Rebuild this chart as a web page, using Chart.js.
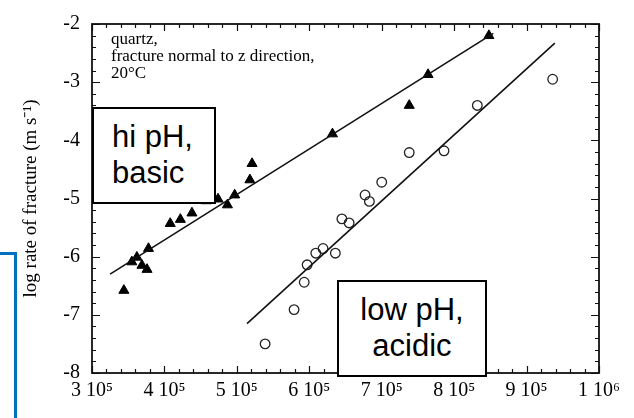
<!DOCTYPE html>
<html>
<head>
<meta charset="utf-8">
<script src="https://cdn.jsdelivr.net/npm/chart.js@4/dist/chart.umd.min.js"></script>
<style>
  html, body { margin: 0; padding: 0; background: #fff; overflow: hidden; }
  #wrap { position: relative; width: 634px; height: 418px; }
  canvas { position: absolute; left: 0; top: 0; }
  .note {
    position: absolute; left: 111px; top: 30px;
    font: 17px "Liberation Serif", "Times New Roman", serif; line-height: 17px; color: #000;
  }
  .box {
    position: absolute; box-sizing: border-box; background: #fff;
    border: 2px solid #000; font: 31px "Liberation Sans", Arial, sans-serif;
    line-height: 36px; color: #000; padding-top: 10px;
  }
  .bracket {
    position: absolute; box-sizing: border-box; left: 0; top: 252px; width: 17px; height: 200px;
    border-top: 3px solid #0070c0; border-right: 3px solid #0070c0;
  }
</style>
</head>
<body>
<div id="wrap">
  <canvas id="chart" width="634" height="418"></canvas>
  <div class="note">quartz,<br>fracture normal to z direction,<br>20°C</div>
  <div class="box" style="left:92px; top:107px; width:124px; height:97px; padding-left:18px;">hi pH,<br>basic</div>
  <div class="box" style="left:337px; top:280px; width:150px; height:97px; text-align:center;">low pH,<br>acidic</div>
  <div class="bracket"></div>
</div>
<script>
// high pH (basic) measurements - filled triangles
const basicX = [344000, 355000, 362000, 369000, 376000, 378000, 408000, 422000, 438000, 458000,
  474000, 487000, 497000, 518000, 521000, 632000, 738000, 764000, 848000];
const basicY = [-6.58, -6.09, -6.01, -6.15, -6.22, -5.86, -5.43, -5.36, -5.25, -5.04,
  -5.01, -5.11, -4.94, -4.68, -4.40, -3.89, -3.40, -2.87, -2.20];

// low pH (acidic) measurements - open circles
const acidicX = [539000, 579000, 593000, 597000, 609000, 619000, 636000, 645000, 655000, 677000,
  683000, 700000, 738000, 786000, 832000, 936000];
const acidicY = [-7.50, -6.91, -6.44, -6.14, -5.94, -5.86, -5.94, -5.35, -5.42, -4.94,
  -5.05, -4.72, -4.21, -4.18, -3.40, -2.95];

// fitted lines
const basicFitX = [325000, 854000];
const basicFitY = [-6.30, -2.16];
const acidicFitX = [514000, 939000];
const acidicFitY = [-7.15, -2.33];

const xTickLabels = ["3 10⁵", "4 10⁵", "5 10⁵", "6 10⁵", "7 10⁵", "8 10⁵", "9 10⁵", "1 10⁶"];
const yTickLabels = ["-8", "-7", "-6", "-5", "-4", "-3", "-2"];

const toPoints = (xs, ys) => xs.map((x, i) => ({ x, y: ys[i] }));
const serif = '"Liberation Serif", "Times New Roman", serif';

// inward ticks on all four sides plus the frame
const frameTicks = {
  id: "frameTicks",
  afterDatasetsDraw(chart) {
    const { ctx, chartArea: a, scales: { x, y } } = chart;
    ctx.save();
    ctx.strokeStyle = "#111";
    ctx.lineWidth = 1.2;
    ctx.beginPath();
    for (let v = 300000; v <= 1000000; v += 20000) {
      const px = Math.round(x.getPixelForValue(v)) + 0.5;
      const len = v % 100000 === 0 ? 7 : 4;
      ctx.moveTo(px, a.bottom); ctx.lineTo(px, a.bottom - len);
      ctx.moveTo(px, a.top); ctx.lineTo(px, a.top + len);
    }
    for (let k = 0; k <= 30; k++) {
      const v = -8 + k * 0.2;
      const py = Math.round(y.getPixelForValue(v)) + 0.5;
      const len = k % 5 === 0 ? 8 : 4;
      ctx.moveTo(a.left, py); ctx.lineTo(a.left + len, py);
      ctx.moveTo(a.right, py); ctx.lineTo(a.right - len, py);
    }
    ctx.stroke();
    ctx.lineWidth = 1.8;
    ctx.strokeRect(a.left, a.top, a.right - a.left, a.bottom - a.top);
    ctx.restore();
  }
};

new Chart(document.getElementById("chart"), {
  type: "scatter",
  data: {
    datasets: [
      {
        data: toPoints(basicFitX, basicFitY), showLine: true, pointRadius: 0,
        borderColor: "#111", borderWidth: 1.6
      },
      {
        data: toPoints(acidicFitX, acidicFitY), showLine: true, pointRadius: 0,
        borderColor: "#111", borderWidth: 1.6
      },
      {
        data: toPoints(basicX, basicY), pointStyle: "triangle", pointRadius: 5.8,
        backgroundColor: "#000", borderColor: "#000", borderWidth: 1
      },
      {
        data: toPoints(acidicX, acidicY), pointStyle: "circle", pointRadius: 4.8,
        backgroundColor: "rgba(0,0,0,0)", borderColor: "#222", borderWidth: 1.3
      }
    ]
  },
  options: {
    responsive: false,
    animation: false,
    events: [],
    layout: { padding: { top: 12, right: 35, left: 0, bottom: 0 } },
    plugins: { legend: { display: false }, tooltip: { enabled: false } },
    scales: {
      x: {
        min: 300000, max: 1000000,
        border: { display: false },
        grid: { display: false, drawTicks: false },
        ticks: {
          stepSize: 100000, padding: 6, color: "#000", maxRotation: 0,
          font: { family: serif, size: 20 },
          callback: (v) => xTickLabels[Math.round((v - 300000) / 100000)]
        },
        afterFit: (scale) => { scale.height = 45; }
      },
      y: {
        min: -8, max: -2,
        border: { display: false },
        grid: { display: false, drawTicks: false },
        ticks: {
          stepSize: 1, padding: 12, color: "#000",
          font: { family: serif, size: 20 },
          callback: (v) => yTickLabels[Math.round(v + 8)]
        },
        title: {
          display: true, text: "log rate of fracture (m s⁻¹)", color: "#000",
          font: { family: serif, size: 19 }, padding: { top: 20, bottom: 0 }
        },
        afterFit: (scale) => { scale.width = 92; }
      }
    }
  },
  plugins: [frameTicks]
});
</script>
</body>
</html>
